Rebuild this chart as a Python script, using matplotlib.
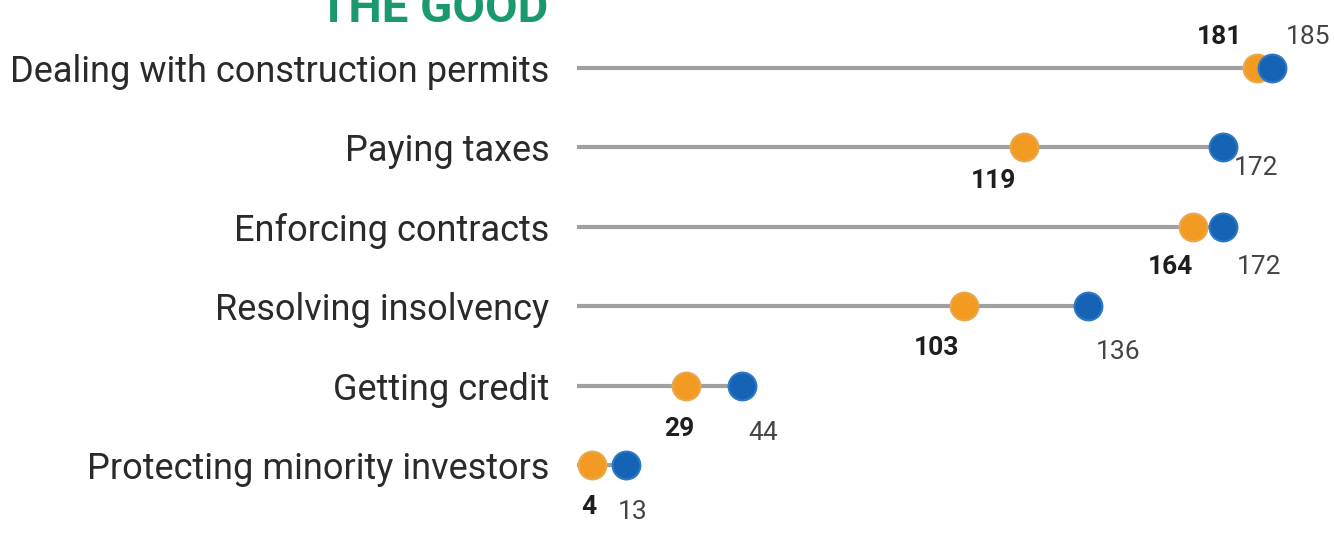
import matplotlib
matplotlib.use("Agg")
import matplotlib.pyplot as plt

# rankings (orange = earlier, blue = latest)
categories = ["Dealing with construction permits", "Paying taxes", "Enforcing contracts",
              "Resolving insolvency", "Getting credit", "Protecting minority investors"]
rank_orange = [181, 119, 164, 103, 29, 4]
rank_blue = [185, 172, 172, 136, 44, 13]

# label offsets in points (dx, dy) for orange / blue numbers
off_orange = [(-27, 22), (-22, -24), (-16, -29), (-20, -30), (-5, -31), (-2, -30)]
off_blue = [(26, 22), (24, -15), (26, -29), (22, -33), (15, -34), (5, -34)]

ORANGE = "#f29a22"
BLUE = "#1463b4"
GREEN = "#1a9a6c"

plt.rcParams['font.family'] = ['Roboto', 'DejaVu Sans']

fig = plt.figure(figsize=(13.34, 5.33), dpi=100)
# value 0 sits at x = 577 px, 3.756 px per rank
ax = fig.add_axes([577 / 1334, 0, 1 - 577 / 1334, 1])
ax.set_xlim(0, (1334 - 577) / 3.756)
step = (465 - 68) / 5
ax.set_ylim(5 + (533 - 465) / step, -68 / step)

ys = list(range(len(categories)))
for y, a, b in zip(ys, rank_orange, rank_blue):
    ax.plot([0, max(a, b)], [y, y], color="#a0a0a0", lw=3, solid_capstyle="butt", zorder=1)

ax.plot(rank_orange, ys, "o", ms=20, color=ORANGE, mec="#e8a850", mew=1.5, lw=0, zorder=3)
ax.plot(rank_blue, ys, "o", ms=20, color=BLUE, mec="#2f78c4", mew=1.5, lw=0, zorder=3)

for y, v, o in zip(ys, rank_orange, off_orange):
    ax.annotate(str(v), (v, y), xytext=o, textcoords="offset points", ha="center", va="center",
                fontsize=19, fontweight="bold", color="#1e1e1e")
for y, v, o in zip(ys, rank_blue, off_blue):
    ax.annotate(str(v), (v, y), xytext=o, textcoords="offset points", ha="center", va="center",
                fontsize=19, color="#444444")

ax.set_yticks(ys)
ax.set_yticklabels(categories, fontsize=26, color="#2a2a2a")
ax.tick_params(axis="y", length=0, pad=20)
ax.set_xticks([])
for s in ax.spines.values():
    s.set_visible(False)

fig.text(548 / 1334, 1 - 22 / 533, "THE GOOD", ha="right", va="baseline",
         fontsize=34, fontweight="bold", color=GREEN)

fig.savefig("out.png", dpi=100, facecolor="white")
